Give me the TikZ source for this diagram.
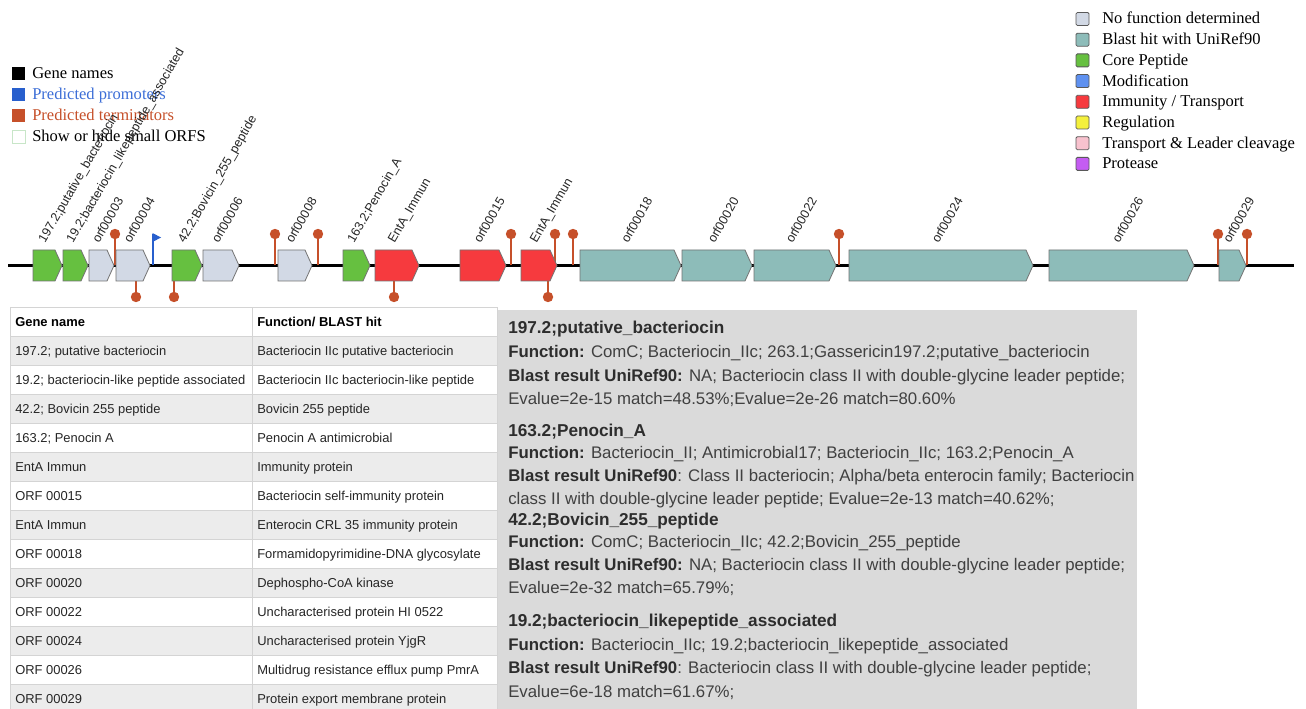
\documentclass[tikz,border=0pt]{standalone}
\usepackage{fontspec}
\setmainfont{Liberation Serif}
\newfontfamily\arialf{Liberation Sans}
\definecolor{gnone}{RGB}{210,217,229}
\definecolor{gblast}{RGB}{141,188,185}
\definecolor{gcore}{RGB}{102,192,64}
\definecolor{gmod}{RGB}{95,145,240}
\definecolor{gimm}{RGB}{246,58,62}
\definecolor{greg}{RGB}{244,240,60}
\definecolor{gtrans}{RGB}{248,194,206}
\definecolor{gprot}{RGB}{196,92,242}
\definecolor{termc}{RGB}{198,80,42}
\definecolor{promc}{RGB}{40,95,205}
\definecolor{promtxt}{RGB}{60,110,215}
\definecolor{tabgrey}{RGB}{236,236,236}
\definecolor{tabline}{RGB}{212,212,212}
\definecolor{panelc}{RGB}{218,218,218}
\definecolor{paneltxt}{RGB}{64,64,64}
\definecolor{paneltxtb}{RGB}{45,45,45}
\newcommand{\drawgene}[5]{%
  \draw[geneshape,fill=#3] (#1,250) -- ({#2-7},250) -- (#2,265.5) -- ({#2-7},281) -- (#1,281) -- cycle;
  \node[genelabel] (#4) at ({(#1+#2)/2-2.5},244) {#5};}
\tikzset{
  geneshape/.style={draw=black!55,line width=0.6pt},
  genelabel/.style={rotate=60,anchor=base west,inner sep=0pt,font=\arialf\fontsize{9.4}{11}\selectfont,text=black!85},
  termstem/.style={draw=termc,line width=1.5pt},
  legtext/.style={anchor=base west,inner sep=0pt,font=\fontsize{12.4}{14}\selectfont},
  legbox/.style={draw=black!65,line width=0.6pt,rounded corners=1pt},
  tabtext/.style={anchor=base west,inner sep=0pt,font=\arialf\fontsize{9.7}{12}\selectfont,text=black!85},
  tabhead/.style={tabtext,font=\arialf\bfseries\fontsize{9.7}{12}\selectfont,text=black},
  pline/.style={anchor=base west,inner sep=0pt,font=\arialf\fontsize{12.6}{15}\selectfont,text=paneltxt},
  ptitle/.style={anchor=base west,inner sep=0pt,font=\arialf\bfseries\fontsize{12.9}{15}\selectfont,text=paneltxtb}
}
\newcommand{\bl}[1]{{\bfseries\color{paneltxtb}#1}}
\begin{document}
\begin{tikzpicture}[x=0.75pt,y=-0.75pt]
\useasboundingbox (0,0) rectangle (1306,709);
\fill[white] (0,0) rectangle (1306,709);

% ---------- left legend ----------
\fill[black] (12,67) rectangle (25,80);
\fill[promc] (12,88) rectangle (25,101);
\fill[termc] (12,109) rectangle (25,122);
\draw[draw={rgb,255:red,200;green,230;blue,200},line width=0.6pt] (12,130) rectangle (25,143);
\node[legtext] (lg1) at (32,79) {Gene names};
\node[legtext,text=promtxt] (lg2) at (32,100) {Predicted promoters};
\node[legtext,text=termc] (lg3) at (32,121) {Predicted terminators};
\node[legtext] (lg4) at (32,142) {Show or hide small ORFS};

% ---------- right legend ----------
\foreach \i/\c in {0/gnone,1/gblast,2/gcore,3/gmod,4/gimm,5/greg,6/gtrans,7/gprot}{
  \draw[legbox,fill=\c] (1076,{12.5+20.7*\i}) rectangle (1089,{25.5+20.7*\i});
}
\begin{scope}
\clip (1095,0) rectangle (1294,180);
\foreach \i/\t in {0/{No function determined},1/{Blast hit with UniRef90},2/{Core Peptide},3/{Modification},4/{Immunity / Transport},5/{Regulation},6/{Transport \& Leader cleavage},7/{Protease}}{
  \node[legtext] (rl\i) at (1102,{24+20.7*\i}) {\t};
}
\end{scope}

% ---------- gene track ----------
\draw[line width=1.6pt] (8,265.5) -- (1294,265.5);
% terminators above
\foreach \x in {115,275,318,511,555,573,839,1218,1247}{
  \draw[termstem] (\x,265.5) -- (\x,234);
}
% terminators below
\foreach \x in {136,174,394,548}{
  \draw[termstem] (\x,265.5) -- (\x,297);
}
% promoter
\draw[draw=promc,line width=1.5pt] (153,265.5) -- (153,234);
\fill[promc] (152.5,233) -- (161,237.5) -- (152.5,242) -- cycle;

\drawgene{33}{62}{gcore}{g1}{197.2;putative\_bacteriocin}
\drawgene{63}{88}{gcore}{g2}{19.2;bacteriocin\_likepeptide\_associated}
\drawgene{89}{114}{gnone}{g3}{orf00003}
\drawgene{116}{150}{gnone}{g4}{orf00004}
\drawgene{172}{202}{gcore}{g5}{42.2;Bovicin\_255\_peptide}
\drawgene{203}{239}{gnone}{g6}{orf00006}
\drawgene{278}{312}{gnone}{g7}{orf00008}
\drawgene{343}{370}{gcore}{g8}{163.2;Penocin\_A}
\drawgene{375}{419}{gimm}{g9}{EntA\_Immun}
\drawgene{460}{506}{gimm}{g10}{orf00015}
\drawgene{521}{557}{gimm}{g11}{EntA\_Immun}
\drawgene{580}{681}{gblast}{g12}{orf00018}
\drawgene{682}{752}{gblast}{g13}{orf00020}
\drawgene{754}{836}{gblast}{g14}{orf00022}
\drawgene{849}{1033}{gblast}{g15}{orf00024}
\drawgene{1049}{1194}{gblast}{g16}{orf00026}
\drawgene{1219}{1246}{gblast}{g17}{orf00029}

\foreach \x in {115,275,318,511,555,573,839,1218,1247}{
  \fill[termc] (\x,234) circle[radius=3.9pt];
}
\foreach \x in {136,174,394,548}{
  \fill[termc] (\x,297) circle[radius=3.9pt];
}

% ---------- table ----------
\foreach \i in {1,3,5,7,9,11,13}{
  \fill[tabgrey] (10,{307+29*\i}) rectangle (497,{336+29*\i});
}
\foreach \i in {0,...,13}{
  \draw[tabline,line width=0.6pt] (10,{307+29*\i}) -- (497,{307+29*\i});
}
\draw[tabline,line width=0.6pt] (10,307) -- (10,712) (252,307) -- (252,712) (497,307) -- (497,712);
\node[tabhead] (h1) at (15,326) {Gene name};
\node[tabhead] (h2) at (257,326) {Function/ BLAST hit};
\foreach \i/\a/\b in {
  1/{197.2; putative bacteriocin}/{Bacteriocin IIc putative bacteriocin},
  2/{19.2; bacteriocin-like peptide associated}/{Bacteriocin IIc bacteriocin-like peptide},
  3/{42.2; Bovicin 255 peptide}/{Bovicin 255 peptide},
  4/{163.2; Penocin A}/{Penocin A antimicrobial},
  5/{EntA Immun}/{Immunity protein},
  6/{ORF 00015}/{Bacteriocin self-immunity protein},
  7/{EntA Immun}/{Enterocin CRL 35 immunity protein},
  8/{ORF 00018}/{Formamidopyrimidine-DNA glycosylate},
  9/{ORF 00020}/{Dephospho-CoA kinase},
  10/{ORF 00022}/{Uncharacterised protein HI 0522},
  11/{ORF 00024}/{Uncharacterised protein YjgR},
  12/{ORF 00026}/{Multidrug resistance efflux pump PmrA},
  13/{ORF 00029}/{Protein export membrane protein}}{
  \node[tabtext] (ra\i) at (15,{326+29*\i}) {\a};
  \node[tabtext] (rb\i) at (257,{326+29*\i}) {\b};
}

% ---------- info panel ----------
\fill[panelc] (498,310) rectangle (1137,712);
\node[ptitle] (p1) at (508,333) {197.2;putative\_bacteriocin};
\node[pline] (p2) at (508,357.5) {\bl{Function:} ComC; Bacteriocin\_IIc; 263.1;Gassericin197.2;putative\_bacteriocin};
\node[pline] (p3) at (508,381) {\bl{Blast result UniRef90:} NA; Bacteriocin class II with double-glycine leader peptide;};
\node[pline] (p4) at (508,404) {Evalue=2e-15 match=48.53\%;Evalue=2e-26 match=80.60\%};
\node[ptitle] (p5) at (508,436) {163.2;Penocin\_A};
\node[pline] (p6) at (508,458.5) {\bl{Function:} Bacteriocin\_II; Antimicrobial17; Bacteriocin\_IIc; 163.2;Penocin\_A};
\node[pline] (p7) at (508,481.5) {\bl{Blast result UniRef90}: Class II bacteriocin; Alpha/beta enterocin family; Bacteriocin};
\node[pline] (p8) at (508,504) {class II with double-glycine leader peptide; Evalue=2e-13 match=40.62\%;};
\node[ptitle] (p9) at (508,525) {42.2;Bovicin\_255\_peptide};
\node[pline] (p10) at (508,547.5) {\bl{Function:} ComC; Bacteriocin\_IIc; 42.2;Bovicin\_255\_peptide};
\node[pline] (p11) at (508,570.5) {\bl{Blast result UniRef90:} NA; Bacteriocin class II with double-glycine leader peptide;};
\node[pline] (p12) at (508,593.5) {Evalue=2e-32 match=65.79\%;};
\node[ptitle] (p13) at (508,626) {19.2;bacteriocin\_likepeptide\_associated};
\node[pline] (p14) at (508,650) {\bl{Function:} Bacteriocin\_IIc; 19.2;bacteriocin\_likepeptide\_associated};
\node[pline] (p15) at (508,673.5) {\bl{Blast result UniRef90}: Bacteriocin class II with double-glycine leader peptide;};
\node[pline] (p16) at (508,697.5) {Evalue=6e-18 match=61.67\%;};
\end{tikzpicture}
\end{document}
